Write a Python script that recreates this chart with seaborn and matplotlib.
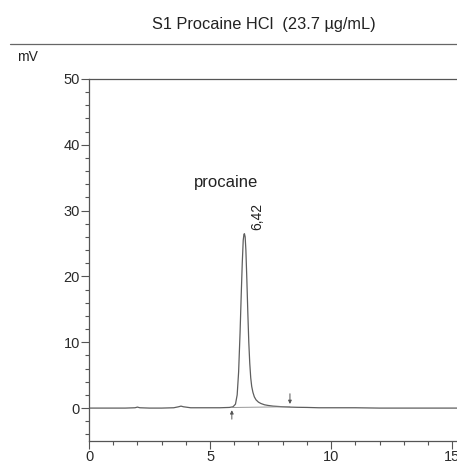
import matplotlib
matplotlib.use("Agg")
import matplotlib.pyplot as plt
from matplotlib.lines import Line2D
from matplotlib.ticker import MultipleLocator
import seaborn as sns
import pandas as pd

# Chromatogram trace (time in min, signal in mV)
time_min = [0.0, 0.5, 1.0, 1.5, 1.9, 2.0, 2.1, 2.5, 3.0, 3.5, 3.7, 3.8, 3.9, 4.2,
            4.6, 5.0, 5.4, 5.8, 5.95, 6.05, 6.12, 6.18, 6.24, 6.29, 6.33, 6.37,
            6.40, 6.42, 6.45, 6.48, 6.52, 6.56, 6.60, 6.64, 6.68, 6.72, 6.77,
            6.83, 6.90, 7.0, 7.1, 7.25, 7.4, 7.6, 7.8, 8.0, 8.3, 8.6, 9.0, 9.5,
            10.0, 11.0, 12.0, 13.0, 14.0, 15.0, 15.4]
signal_mv = [0.0, 0.0, 0.0, 0.0, 0.05, 0.15, 0.05, 0.0, 0.0, 0.05, 0.2, 0.3, 0.2,
             0.05, 0.05, 0.05, 0.05, 0.1, 0.2, 0.6, 2.0, 5.5, 11.5, 17.5, 22.0,
             25.5, 26.4, 26.5, 26.0, 24.0, 19.5, 14.5, 10.0, 6.8, 4.6, 3.3, 2.4,
             1.7, 1.25, 0.9, 0.7, 0.5, 0.4, 0.3, 0.25, 0.2, 0.15, 0.12, 0.1, 0.05,
             0.05, 0.05, 0.0, 0.0, 0.0, 0.0, 0.0]

title_text = "S1 Procaine HCl  (23.7 µg/mL)"
y_unit = "mV"
peak_name = "procaine"
peak_rt_label = "6,42"
peak_rt = 6.42
peak_height = 26.5
peak_start = (5.9, 0.1)
peak_end = (8.3, 0.2)

df = pd.DataFrame({"time": time_min, "signal": signal_mv})

sns.set_style("ticks")
plt.rcParams["font.family"] = ["Liberation Sans", "DejaVu Sans"]

fig = plt.figure(figsize=(4.57, 4.61), dpi=100)
ax = fig.add_axes([89 / 457, 20 / 461, 1 - 89 / 457, (441 - 79) / 461])

grey = "#555555"
sns.lineplot(data=df, x="time", y="signal", ax=ax, color="#5e5e5e", linewidth=0.9)

# integration baseline
ax.plot([peak_start[0], peak_end[0]], [peak_start[1], peak_end[1]], color="#888888", linewidth=0.6)
# start / end markers
ax.annotate("", xy=(peak_start[0], peak_start[1]), xytext=(peak_start[0], peak_start[1] - 2.2),
            arrowprops=dict(arrowstyle="-|>", color=grey, lw=0.7, mutation_scale=5))
ax.annotate("", xy=(peak_end[0], peak_end[1]), xytext=(peak_end[0], peak_end[1] + 2.4),
            arrowprops=dict(arrowstyle="-|>", color=grey, lw=0.7, mutation_scale=5))

ax.text(peak_rt + 0.55, peak_height + 0.6, peak_rt_label, rotation=90, ha="center",
        va="bottom", fontsize=10, color="#222222")
ax.text(5.66, 34.3, peak_name, ha="center", va="center", fontsize=12, color="#222222")

ax.set_xlim(0, 15.2)
ax.set_ylim(-5, 50)
ax.xaxis.set_major_locator(MultipleLocator(5))
ax.xaxis.set_minor_locator(MultipleLocator(1))
ax.yaxis.set_major_locator(MultipleLocator(10))
ax.yaxis.set_minor_locator(MultipleLocator(2))
ax.tick_params(which="major", direction="out", length=6, width=0.8, color=grey,
               labelsize=10.5, labelcolor="#2a2a2a", pad=0.5)
ax.tick_params(which="minor", direction="out", length=3, width=0.8, color=grey)
ax.set_xlabel("")
ax.set_ylabel("")
for side in ["left", "bottom", "top"]:
    ax.spines[side].set_color(grey)
    ax.spines[side].set_linewidth(0.9)
ax.spines["right"].set_visible(False)

fig.text(264 / 457, 1 - 25 / 461, title_text, ha="center", va="center", fontsize=11.8, color="#222222")
fig.add_artist(Line2D([10 / 457, 1.0], [1 - 44 / 461, 1 - 44 / 461], color="#666666", linewidth=0.9))
fig.text(17 / 457, 1 - 57 / 461, y_unit, ha="left", va="center", fontsize=10, color="#222222")

fig.savefig("out.png", dpi=100)
